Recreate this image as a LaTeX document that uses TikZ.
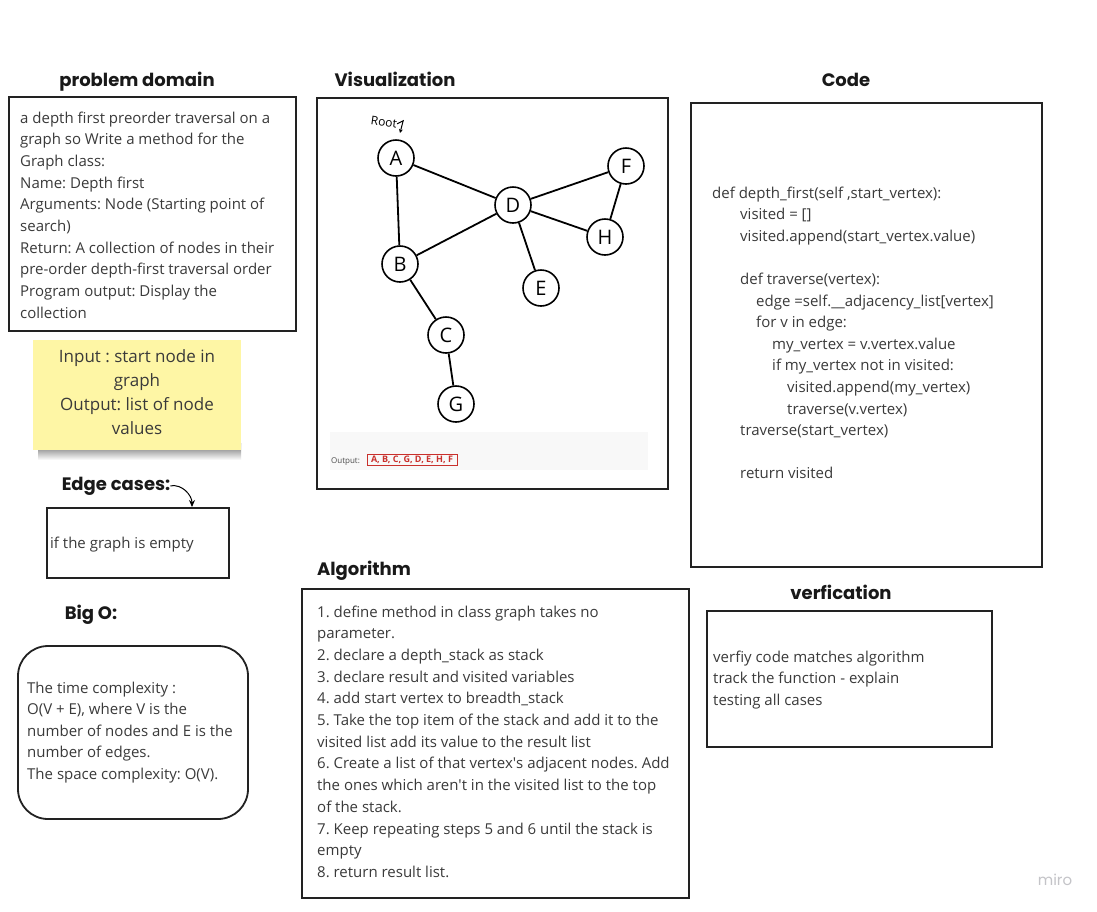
\documentclass[tikz,border=0pt]{standalone}
\usepackage{fontspec}
\setmainfont{Open Sans}
\newfontfamily\titlefont{Poppins}
\usetikzlibrary{arrows.meta}
\frenchspacing

\definecolor{boxline}{HTML}{222222}
\definecolor{bodytext}{HTML}{3A3A3A}
\definecolor{stickyyellow}{HTML}{FEF6A5}
\definecolor{outband}{HTML}{F8F8F8}
\definecolor{outred}{HTML}{C9302C}
\definecolor{mirogray}{HTML}{C4C4C8}

\tikzset{
  box/.style={draw=boxline, line width=1.8pt},
  txt/.style={anchor=base west, inner sep=0pt, text=bodytext, font=\fontsize{15}{18}\selectfont},
  sticky/.style={anchor=base, inner sep=0pt, text=bodytext, font=\fontsize{17}{20}\selectfont},
  title/.style={anchor=base, inner sep=0pt, text=black!90, font=\titlefont\bfseries\fontsize{18}{22}\selectfont},
  gnode/.style={circle, draw, line width=1.6pt, minimum size=36pt, inner sep=0pt, fill=white, font=\fontsize{20}{20}\selectfont},
  gedge/.style={line width=1.8pt}
}

\begin{document}
\begin{tikzpicture}[x=1pt, y=-1pt]
  \useasboundingbox (0,0) rectangle (1097,911);
  \fill[white] (0,0) rectangle (1097,911);

  % problem domain
  \node[title] (pdtitle) at (137,86) {problem domain};
  \draw[box] (9,97) rectangle (296,331);
  \foreach \t [count=\i] in {{a depth first preorder traversal on a},
      {graph so Write a method for the}, {Graph class:}, {Name: Depth first},
      {Arguments: Node (Starting point of}, {search)},
      {Return: A collection of nodes in their},
      {pre-order depth-first traversal order},
      {Program output: Display the}, {collection}}
    \node[txt] (pd\i) at (20,{123+21.7*(\i-1)}) {\t};

  % sticky note
  \shade[top color=black!60, bottom color=white] (38,443) rectangle (241,460);
  \fill[stickyyellow] (33,340) rectangle (241,450);
  \foreach \t [count=\i] in {{Input : start node in}, {graph},
      {Output: list of node}, {values}}
    \node[sticky] (io\i) at (137,{362+24*(\i-1)}) {\t};

  % edge cases
  \node[title] (ectitle) at (116,490) {Edge cases:};
  \draw[box] (47,508) rectangle (229,578);
  \coordinate (ectip) at (192,507);
  \draw[line width=1pt, -{Stealth[length=7pt, width=6pt]}] (ectitle.east) to[out=10, in=90] (ectip);
  \node[txt] (ec1) at (50,548) {if the graph is empty};

  % big O
  \node[title] (bigotitle) at (91,619) {Big O:};
  \draw[box, rounded corners=30pt] (18,646) rectangle (248,819);
  \foreach \t [count=\i] in {{The time complexity :}, {O(V + E), where V is the},
      {number of nodes and E is the}, {number of edges.},
      {The space complexity: O(V).}}
    \node[txt] (bo\i) at (27,{693+21.5*(\i-1)}) {\t};

  % visualization
  \node[title] (vistitle) at (395,86) {Visualization};
  \draw[box] (317,98) rectangle (668,489);
  \node[gnode] (A) at (396,158) {A};
  \node[gnode] (B) at (400,264) {B};
  \node[gnode] (C) at (446,335) {C};
  \node[gnode] (G) at (456,404) {G};
  \node[gnode] (D) at (513,205) {D};
  \node[gnode] (E) at (541,288) {E};
  \node[gnode] (F) at (626,166) {F};
  \node[gnode] (H) at (605,237) {H};
  \foreach \u/\v in {A/B, A/D, B/D, B/C, C/G, D/F, D/H, D/E, F/H}
    \draw[gedge] (\u) -- (\v);
  \node[inner sep=0pt, rotate=-8, font=\fontsize{12}{12}\selectfont] (root) at (384,122) {Root};
  \coordinate (rootend) at (400,133);
  \draw[line width=1pt, -{Stealth[length=4pt, width=4pt]}] (root.east) -- ++(6,-3) -- (rootend);

  \fill[outband] (330,432) rectangle (648,470);
  \node[anchor=base west, inner sep=0pt, text=black!70, font=\fontsize{8}{8}\selectfont] (outlbl) at (331,463) {Output:};
  \node[draw=outred, line width=0.8pt, inner xsep=4pt, inner ysep=2pt, text=outred,
        font=\bfseries\fontsize{9}{9}\selectfont] (outval) at (412,460) {A, B, C, G, D, E, H, F};

  % code
  \node[title] (codetitle) at (846,86) {Code};
  \draw[box] (691,103) rectangle (1042,567);
  \foreach \ind/\row/\t in {0/0/{def depth\_first(self ,start\_vertex):},
      28/1/{visited = []}, 28/2/{visited.append(start\_vertex.value)},
      28/4/{def traverse(vertex):}, 44/5/{edge =self.\_\_adjacency\_list[vertex]},
      44/6/{for v in edge:}, 60/7/{my\_vertex = v.vertex.value},
      60/8/{if my\_vertex not in visited:}, 75/9/{visited.append(my\_vertex)},
      75/10/{traverse(v.vertex)}, 28/11/{traverse(start\_vertex)},
      28/13/{return visited}}
    \node[txt] (code\row) at ({712+\ind},{198+21.6*\row}) {\t};

  % algorithm
  \node[title] (algtitle) at (364,575) {Algorithm};
  \draw[box] (302,589) rectangle (689,898);
  \foreach \t [count=\i] in {{1. define method in class graph takes no},
      {parameter.}, {2. declare a depth\_stack as stack},
      {3. declare result and visited variables},
      {4. add start vertex to breadth\_stack},
      {5. Take the top item of the stack and add it to the},
      {visited list add its value to the result list},
      {6. Create a list of that vertex\textquotesingle s adjacent nodes. Add},
      {the ones which aren\textquotesingle t in the visited list to the top},
      {of the stack.}, {7. Keep repeating steps 5 and 6 until the stack is},
      {empty}, {8. return result list.}}
    \node[txt] (alg\i) at (317,{617+21.7*(\i-1)}) {\t};

  % verification
  \node[title] (vertitle) at (841,599) {verfication};
  \draw[box] (707,611) rectangle (992,747);
  \foreach \t [count=\i] in {{verfiy code matches algorithm},
      {track the function - explain}, {testing all cases}}
    \node[txt] (ver\i) at (713,{662+21.5*(\i-1)}) {\t};

  \node[anchor=base, inner sep=0pt, text=mirogray, font=\titlefont\fontsize{15}{15}\selectfont] (miro) at (1055,885) {miro};
\end{tikzpicture}
\end{document}
